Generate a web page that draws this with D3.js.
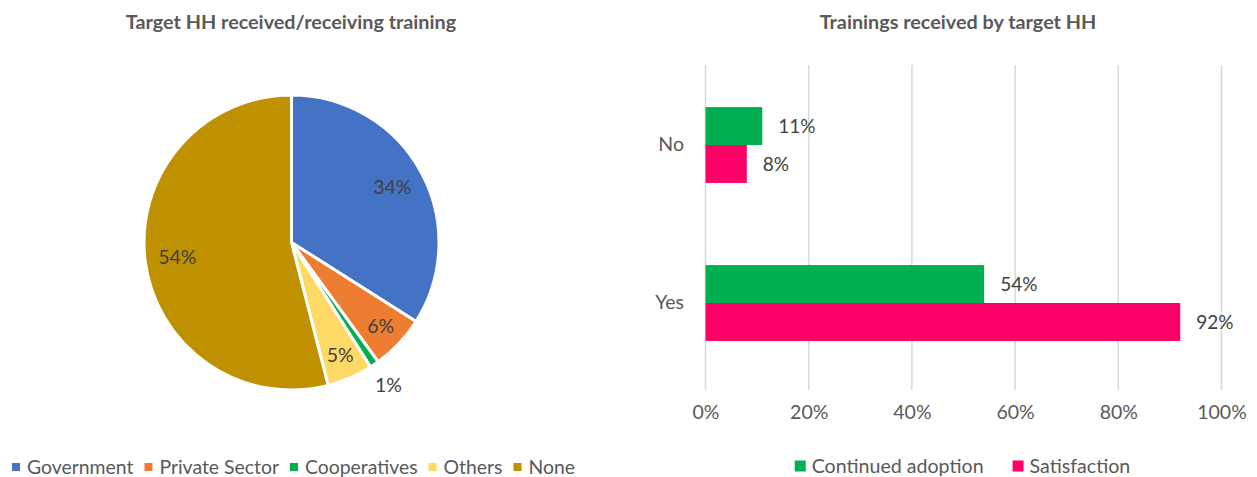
<!DOCTYPE html>
<html lang="en">
<head>
  <meta charset="UTF-8">
  <title>Target HH training</title>
  <script src="https://d3js.org/d3.v7.min.js"></script>
  <style>
    body { margin: 0; background: #fff; font-family: Lato, "Open Sans", sans-serif; }
    text { fill: #595959; }
  </style>
</head>
<body>
  <div id="chart"></div>

  <script>
    // Pie data
    const pieCategories = ["Government", "Private Sector", "Cooperatives", "Others", "None"];
    const pieValues = [34, 6, 1, 5, 54];
    const pieColors = ["#4472C4", "#ED7D31", "#00B050", "#FFD966", "#BF9000"];

    // Bar data
    const barCategories = ["No", "Yes"];
    const barSeries = ["Continued adoption", "Satisfaction"];
    const adoptionValues = [11, 54];
    const satisfactionValues = [8, 92];
    const barColors = ["#00B050", "#FF0066"];
    const xTicks = [0, 20, 40, 60, 80, 100];

    const width = 1257, height = 477;

    const svg = d3.select("#chart")
      .append("svg")
      .attr("width", width)
      .attr("height", height);

    // ---------- Pie chart ----------
    svg.append("text")
      .attr("x", 291).attr("y", 29)
      .attr("text-anchor", "middle")
      .attr("font-size", 19.8).attr("font-weight", "bold")
      .text("Target HH received/receiving training");

    const R = 147.5;
    const pieG = svg.append("g").attr("transform", "translate(291.5,242.5)");

    const pie = d3.pie().sort(null).value(d => d);
    const arcs = pie(pieValues);
    const arc = d3.arc().innerRadius(0).outerRadius(R);

    pieG.selectAll("path")
      .data(arcs)
      .join("path")
      .attr("d", arc)
      .attr("fill", (d, i) => pieColors[i])
      .attr("stroke", "#fff")
      .attr("stroke-width", 3)
      .attr("stroke-linejoin", "round");

    // label radius: inside for larger slices, outside for tiny ones
    const labelR = d => {
      const v = d.data;
      if (v < 3) return R + 25;
      if (v < 10) return R * 0.83;
      return R * 0.78;
    };
    pieG.selectAll("text.lbl")
      .data(arcs)
      .join("text")
      .attr("class", "lbl")
      .attr("transform", d => {
        const a = (d.startAngle + d.endAngle) / 2;
        const r = labelR(d);
        return `translate(${r * Math.sin(a)},${-r * Math.cos(a)})`;
      })
      .attr("text-anchor", "middle")
      .attr("dy", "0.35em")
      .attr("font-size", 19.5)
      .style("fill", "#404040")
      .text(d => d.data + "%");

    // Pie legend
    const pieLegend = svg.append("g").attr("transform", "translate(12,467)");
    let lx = 0;
    pieCategories.forEach((c, i) => {
      const g = pieLegend.append("g").attr("transform", `translate(${lx},0)`);
      g.append("rect").attr("x", 0).attr("y", -4).attr("width", 8).attr("height", 8).attr("fill", pieColors[i]);
      const t = g.append("text").attr("x", 15).attr("dy", "0.35em").attr("font-size", 19.4).text(c);
      lx += 15 + t.node().getComputedTextLength() + 11;
    });

    // ---------- Bar chart ----------
    svg.append("text")
      .attr("x", 958).attr("y", 29)
      .attr("text-anchor", "middle")
      .attr("font-size", 19.8).attr("font-weight", "bold")
      .text("Trainings received by target HH");

    const x = d3.scaleLinear().domain([0, 100]).range([705.5, 1221.5]);
    const y = d3.scaleBand().domain(barCategories).range([66, 382])
      .paddingInner(0.52).paddingOuter(0.26);
    const ySub = d3.scaleBand().domain(barSeries).range([0, y.bandwidth()]);

    // gridlines
    svg.append("g")
      .selectAll("line")
      .data(xTicks)
      .join("line")
      .attr("x1", d => x(d)).attr("x2", d => x(d))
      .attr("y1", 65).attr("y2", 390)
      .attr("stroke", "#D9D9D9")
      .attr("stroke-width", 1.5);

    // x axis labels
    const xAxis = svg.append("g")
      .attr("transform", "translate(0,402)")
      .call(d3.axisBottom(x).tickValues(xTicks).tickFormat(d => d + "%").tickSize(0));
    xAxis.select(".domain").remove();
    xAxis.selectAll("text").attr("font-size", 19.5).attr("font-family", "Lato, sans-serif").style("fill", "#595959");

    // y axis labels
    const yAxis = svg.append("g")
      .attr("transform", "translate(687,0)")
      .call(d3.axisLeft(y).tickSize(0));
    yAxis.select(".domain").remove();
    yAxis.selectAll("text").attr("font-size", 19.5).attr("font-family", "Lato, sans-serif").style("fill", "#595959");

    const rows = barCategories.map((c, i) => ({
      cat: c,
      vals: [adoptionValues[i], satisfactionValues[i]]
    }));

    const groups = svg.append("g")
      .selectAll("g")
      .data(rows)
      .join("g")
      .attr("transform", d => `translate(0,${y(d.cat)})`);

    groups.selectAll("rect")
      .data(d => d.vals.map((v, j) => ({ series: barSeries[j], v, j })))
      .join("rect")
      .attr("x", x(0))
      .attr("y", d => ySub(d.series))
      .attr("width", d => x(d.v) - x(0))
      .attr("height", ySub.bandwidth())
      .attr("fill", d => barColors[d.j]);

    groups.selectAll("text")
      .data(d => d.vals.map((v, j) => ({ series: barSeries[j], v, j })))
      .join("text")
      .attr("x", d => x(d.v) + 16)
      .attr("y", d => ySub(d.series) + ySub.bandwidth() / 2)
      .attr("dy", "0.35em")
      .attr("font-size", 19)
      .style("fill", "#404040")
      .text(d => d.v + "%");

    // Bar legend
    const barLegend = svg.append("g");
    let bx = 0;
    barSeries.forEach((s, i) => {
      const g = barLegend.append("g").attr("transform", `translate(${bx},0)`);
      g.append("rect").attr("x", 0).attr("y", -5.5).attr("width", 11).attr("height", 11).attr("fill", barColors[i]);
      const t = g.append("text").attr("x", 17).attr("dy", "0.35em").attr("font-size", 19.6).text(s);
      bx += 17 + t.node().getComputedTextLength() + 29;
    });
    const totalW = bx - 29;
    barLegend.attr("transform", `translate(${962.5 - totalW / 2},466)`);
  </script>
</body>
</html>
